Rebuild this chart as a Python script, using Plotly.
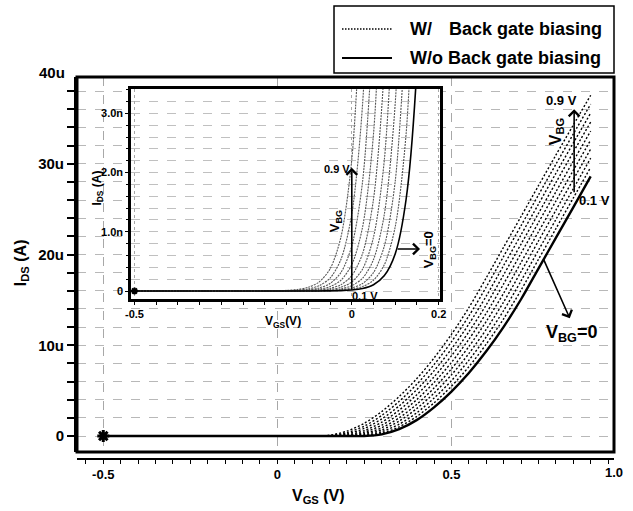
import plotly.graph_objects as go

# ---------------- data ----------------
# Main plot: V_GS (V) and I_DS (uA) for each back-gate bias
V_MAIN = [-0.5, 0.0, 0.10, 0.15, 0.20, 0.25, 0.30, 0.35, 0.40, 0.45, 0.50,
          0.55, 0.60, 0.65, 0.70, 0.75, 0.80, 0.85, 0.90]
IDS_VBG_00 = [0, 0, 0, 0, 0, 0.00, 0.18, 0.75, 1.75, 3.16, 4.90, 6.95, 9.33, 12.03, 15.07, 18.45, 21.83, 25.20, 28.60]
IDS_VBG_01 = [0, 0, 0, 0, 0, 0.02, 0.31, 1.01, 2.14, 3.65, 5.48, 7.63, 10.12, 12.92, 16.08, 19.46, 22.84, 26.22, 29.61]
IDS_VBG_02 = [0, 0, 0, 0, 0, 0.06, 0.47, 1.30, 2.55, 4.17, 6.09, 8.34, 10.92, 13.83, 17.09, 20.47, 23.85, 27.24, 30.61]
IDS_VBG_03 = [0, 0, 0, 0, 0, 0.15, 0.68, 1.64, 3.01, 4.72, 6.73, 9.08, 11.75, 14.76, 18.11, 21.49, 24.87, 28.26, 31.62]
IDS_VBG_04 = [0, 0, 0, 0, 0.01, 0.26, 0.92, 2.00, 3.48, 5.28, 7.40, 9.85, 12.62, 15.74, 19.12, 22.50, 25.88, 29.27, 32.61]
IDS_VBG_05 = [0, 0, 0, 0, 0.05, 0.42, 1.20, 2.41, 4.00, 5.89, 8.10, 10.65, 13.53, 16.76, 20.14, 23.52, 26.90, 30.28, 33.60]
IDS_VBG_06 = [0, 0, 0, 0, 0.11, 0.60, 1.52, 2.85, 4.53, 6.51, 8.83, 11.47, 14.45, 17.77, 21.15, 24.53, 27.92, 31.28, 34.59]
IDS_VBG_07 = [0, 0, 0, 0.01, 0.22, 0.84, 1.88, 3.32, 5.09, 7.18, 9.59, 12.33, 15.41, 18.79, 22.17, 25.54, 28.94, 32.28, 35.58]
IDS_VBG_08 = [0, 0, 0, 0.03, 0.36, 1.10, 2.27, 3.82, 5.68, 7.86, 10.38, 13.22, 16.42, 19.80, 23.18, 26.56, 29.94, 33.27, 36.57]
IDS_VBG_09 = [0, 0, 0, 0.09, 0.54, 1.41, 2.70, 4.35, 6.30, 8.59, 11.20, 14.14, 17.43, 20.81, 24.19, 27.58, 30.95, 34.26, 37.55]

# Inset: V_GS (V) and I_DS (nA), subthreshold region
V_INSET = [-0.5, -0.2, -0.15, -0.125, -0.1, -0.075, -0.05, -0.025, 0.0, 0.025,
           0.05, 0.075, 0.1, 0.125, 0.15, 0.175]
INS_VBG_00 = [0, 0, 0, 0, 0, 0.001, 0.003, 0.007, 0.018, 0.043, 0.107, 0.261, 0.630, 1.55, 3.79, 9.26]
INS_VBG_01 = [0, 0, 0, 0, 0.001, 0.002, 0.005, 0.013, 0.031, 0.075, 0.182, 0.445, 1.087, 2.656, 6.49, None]
INS_VBG_02 = [0, 0, 0, 0.001, 0.002, 0.004, 0.009, 0.021, 0.052, 0.128, 0.312, 0.761, 1.859, 4.54, None, None]
INS_VBG_03 = [0, 0, 0, 0.001, 0.003, 0.006, 0.015, 0.037, 0.089, 0.218, 0.532, 1.30, 3.175, 7.76, None, None]
INS_VBG_04 = [0, 0, 0.001, 0.002, 0.004, 0.011, 0.026, 0.063, 0.153, 0.373, 0.910, 2.221, 5.43, None, None, None]
INS_VBG_05 = [0, 0, 0.001, 0.003, 0.007, 0.018, 0.044, 0.107, 0.261, 0.636, 1.554, 3.80, 9.27, None, None, None]
INS_VBG_06 = [0, 0, 0.002, 0.005, 0.013, 0.031, 0.075, 0.182, 0.445, 1.087, 2.656, 6.49, None, None, None, None]
INS_VBG_07 = [0, 0.001, 0.004, 0.009, 0.021, 0.052, 0.128, 0.312, 0.761, 1.859, 4.54, None, None, None, None, None]
INS_VBG_08 = [0, 0.001, 0.006, 0.015, 0.037, 0.089, 0.218, 0.532, 1.30, 3.175, 7.76, None, None, None, None, None]
INS_VBG_09 = [0, 0.002, 0.011, 0.026, 0.063, 0.153, 0.373, 0.910, 2.221, 5.43, None, None, None, None, None, None]

VBG_LEVELS = [0.0, 0.1, 0.2, 0.3, 0.4, 0.5, 0.6, 0.7, 0.8, 0.9]

MAIN_Y_TICKS = [0, 10, 20, 30]
MAIN_Y_TICKTEXT = ["0", "10u", "20u", "30u"]
MAIN_X_TICKS = [-0.5, 0, 0.5]
MAIN_X_TICKTEXT = ["-0.5", "0", "0.5"]
INSET_Y_TICKS = [0, 1, 2, 3]
INSET_Y_TICKTEXT = ["0", "1.0n", "2.0n", "3.0n"]
INSET_X_TICKS = [-0.5, 0, 0.2]
INSET_X_TICKTEXT = ["-0.5", "0", "0.2"]

main_series = [IDS_VBG_00, IDS_VBG_01, IDS_VBG_02, IDS_VBG_03, IDS_VBG_04,
               IDS_VBG_05, IDS_VBG_06, IDS_VBG_07, IDS_VBG_08, IDS_VBG_09]
inset_series = [INS_VBG_00, INS_VBG_01, INS_VBG_02, INS_VBG_03, INS_VBG_04,
                INS_VBG_05, INS_VBG_06, INS_VBG_07, INS_VBG_08, INS_VBG_09]

FONT = "Liberation Sans, Arial, sans-serif"

fig = go.Figure()

# main: dotted (with back gate biasing) first, solid (VBG=0) on top
for vbg, ids in zip(VBG_LEVELS[1:], main_series[1:]):
    fig.add_trace(go.Scatter(x=V_MAIN, y=ids, mode="lines", xaxis="x", yaxis="y",
                             line=dict(color="black", width=1.4, dash="2px,2px", shape="spline", smoothing=0.8),
                             name=f"VBG={vbg}", showlegend=False, hoverinfo="skip"))
fig.add_trace(go.Scatter(x=V_MAIN, y=main_series[0], mode="lines", xaxis="x", yaxis="y",
                         line=dict(color="black", width=2.4, shape="spline", smoothing=0.8),
                         name="VBG=0", showlegend=False, hoverinfo="skip"))
fig.add_trace(go.Scatter(x=[V_MAIN[0]], y=[main_series[0][0]], mode="markers", xaxis="x", yaxis="y",
                         marker=dict(symbol="asterisk-open", size=10, color="black",
                                     line=dict(color="black", width=3)),
                         showlegend=False, hoverinfo="skip"))

# inset
for vbg, ids in zip(VBG_LEVELS[1:], inset_series[1:]):
    fig.add_trace(go.Scatter(x=V_INSET, y=ids, mode="lines", xaxis="x2", yaxis="y2",
                             line=dict(color="#555555", width=1.1, dash="2px,1px", shape="spline", smoothing=0.8),
                             showlegend=False, hoverinfo="skip"))
fig.add_trace(go.Scatter(x=V_INSET, y=inset_series[0], mode="lines", xaxis="x2", yaxis="y2",
                         line=dict(color="black", width=1.6, shape="spline", smoothing=0.8),
                         showlegend=False, hoverinfo="skip"))
fig.add_trace(go.Scatter(x=[V_INSET[0]], y=[inset_series[0][0]], mode="markers", xaxis="x2", yaxis="y2",
                         marker=dict(symbol="asterisk-open", size=6, color="black",
                                     line=dict(color="black", width=2)),
                         showlegend=False, hoverinfo="skip"))

Y0 = 0.0183  # bottom of main plot box in paper fraction

fig.update_layout(
    width=633, height=511,
    margin=dict(l=77, r=19, t=77, b=52),
    paper_bgcolor="white", plot_bgcolor="white",
    font=dict(family=FONT, color="black", size=13, weight="bold"),
    showlegend=False,
    xaxis=dict(domain=[0, 1], anchor="free", position=0, range=[-0.5755, 0.967],
               tickvals=MAIN_X_TICKS, ticktext=MAIN_X_TICKTEXT,
               ticks="outside", ticklen=4, tickwidth=1, tickcolor="black",
               showline=True, linecolor="black", linewidth=1.5,
               showgrid=True, gridcolor="#a8a8a8", griddash="dash", gridwidth=1,
               zeroline=False, tickfont=dict(size=13, family=FONT, weight="bold"),
               minor=dict(dtick=0.05, tick0=0, ticks="outside", ticklen=4, tickcolor="black", showgrid=False)),
    yaxis=dict(domain=[Y0, 1], anchor="x", range=[-1.763, 39.56],
               tickvals=MAIN_Y_TICKS, ticktext=MAIN_Y_TICKTEXT,
               ticks="outside", ticklen=7, tickwidth=1.5, tickcolor="black",
               showline=True, linecolor="black", linewidth=3,
               showgrid=True, gridcolor="#b8b8b8", griddash="dash", gridwidth=1,
               zeroline=False, tickfont=dict(size=15, family=FONT, weight="bold"),
               minor=dict(dtick=2, tick0=0, ticks="outside", ticklen=7, tickcolor="black",
                          showgrid=True, gridcolor="#b8b8b8", griddash="dash", gridwidth=1)),
    xaxis2=dict(domain=[0.1006, 0.676], anchor="y2", range=[-0.508, 0.203],
                tickvals=INSET_X_TICKS, ticktext=INSET_X_TICKTEXT,
                ticks="outside", ticklen=3, tickcolor="black",
                showline=True, mirror=True, linecolor="black", linewidth=2.5,
                showgrid=True, gridcolor="#a8a8a8", griddash="dot", gridwidth=1,
                zeroline=False, tickfont=dict(size=11, family=FONT, weight="bold"),
                minor=dict(dtick=0.05, tick0=0, ticks="outside", ticklen=3, tickcolor="black", showgrid=False)),
    yaxis2=dict(domain=[0.4188, 0.9686], anchor="x2", range=[-0.135, 3.412],
                tickvals=INSET_Y_TICKS, ticktext=INSET_Y_TICKTEXT,
                ticks="outside", ticklen=3, tickcolor="black",
                showline=True, mirror=True, linecolor="black", linewidth=2.5,
                showgrid=True, gridcolor="#c0c0c0", griddash="dash", gridwidth=1,
                zeroline=False, tickfont=dict(size=11, family=FONT, weight="bold"),
                minor=dict(dtick=0.2, tick0=0, ticks="outside", ticklen=2, tickcolor="black",
                           showgrid=True, gridcolor="#c0c0c0", griddash="dash", gridwidth=1)),
)

shapes = []
# main plot frame
shapes.append(dict(type="rect", xref="paper", yref="paper", x0=0, x1=1, y0=Y0, y1=1,
                   line=dict(color="black", width=3), layer="above"))
# legend frame and samples
shapes.append(dict(type="rect", xref="paper", yref="paper", x0=0.4786, x1=1.0, y0=1.0105, y1=1.1859,
                   line=dict(color="black", width=1.5), fillcolor="white", layer="above"))
shapes.append(dict(type="line", xref="paper", yref="paper", x0=0.4935, x1=0.5866, y0=1.1257, y1=1.1257,
                   line=dict(color="black", width=1.5, dash="1.5px,1.5px")))
shapes.append(dict(type="line", xref="paper", yref="paper", x0=0.4935, x1=0.5866, y0=1.0497, y1=1.0497,
                   line=dict(color="black", width=2)))
fig.update_layout(shapes=shapes)

def txt(text, x, y, xref, yref, size, angle=0, xanchor="center", yanchor="middle"):
    return dict(text=text, x=x, y=y, xref=xref, yref=yref, showarrow=False, textangle=angle,
                xanchor=xanchor, yanchor=yanchor,
                font=dict(family=FONT, size=size, color="black", weight="bold"))

def arrow(x, y, ax, ay, xref, yref):
    return dict(text="", x=x, y=y, ax=ax, ay=ay, xref=xref, yref=yref, axref=xref, ayref=yref,
                showarrow=True, arrowhead=4, arrowsize=1.3, arrowwidth=1.6, arrowcolor="black",
                standoff=0, startstandoff=0)

ann = [
    # legend text
    txt("W/", 0.6164, 1.1257, "paper", "paper", 18, xanchor="left"),
    txt("Back gate biasing", 0.6885, 1.1257, "paper", "paper", 18, xanchor="left"),
    txt("W/o Back gate biasing", 0.6164, 1.0497, "paper", "paper", 18, xanchor="left"),
    # axis titles
    txt("V<sub>GS</sub> (V)", 0.449, -0.097, "paper", "paper", 16),
    txt("I<sub>DS</sub> (A)", -0.104, 0.513, "paper", "paper", 16, angle=-90),
    txt("40u", -0.0186, 1.0105, "paper", "paper", 15, xanchor="right"),
    txt("1.0", 1.0, -0.0366, "paper", "paper", 13),
    # inset titles
    txt("I<sub>DS</sub> (A)", 0.0382, 0.7094, "paper", "paper", 12, angle=-90),
    txt("V<sub>GS</sub>(V)", 0.3836, 0.3586, "paper", "paper", 12),
    # main annotations
    arrow(0.8525, 36.0, 0.8525, 26.7, "x", "y"),
    txt("0.9 V", 0.8163, 37.02, "x", "y", 13),
    txt("V<sub>BG</sub>", 0.802, 33.53, "x", "y", 16, angle=-90),
    txt("0.1 V", 0.912, 26.0, "x", "y", 13),
    arrow(0.840, 12.97, 0.7635, 19.58, "x", "y"),
    txt("V<sub>BG</sub>=0", 0.845, 11.35, "x", "y", 18),
    # inset annotations
    arrow(0.0, 2.08, 0.0, 0.0, "x2", "y2"),
    txt("0.9 V", -0.0345, 2.056, "x2", "y2", 11),
    txt("V<sub>BG</sub>", -0.0384, 1.18, "x2", "y2", 13, angle=-90),
    txt("0.1 V", 0.030, -0.084, "x2", "y2", 11),
    arrow(0.157, 0.71, 0.102, 0.71, "x2", "y2"),
    txt("V<sub>BG</sub>=0", 0.178, 0.69, "x2", "y2", 13, angle=-90),
]
fig.update_layout(annotations=ann)

fig.write_html("out.html", config={"displayModeBar": False},
               post_script="document.body.style.margin='0';")
